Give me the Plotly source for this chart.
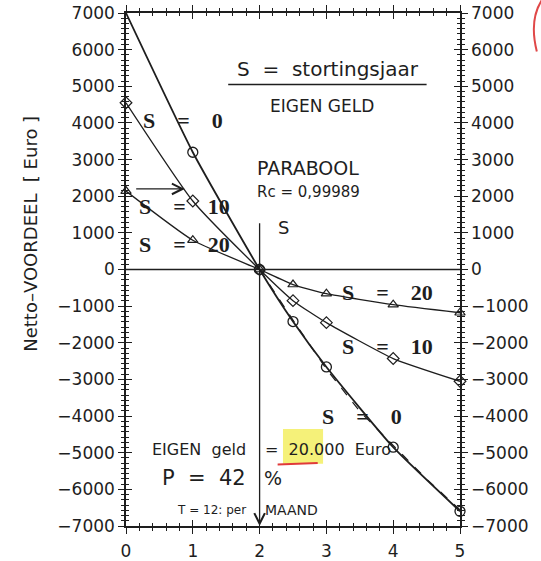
import plotly.graph_objects as go

# Stortingsjaar-series: netto-voordeel (Euro) per jaar
jaren = [0, 1, 2, 2.5, 3, 4, 5]
s0_waarden = [7000, 3200, 0, -1420, -2660, -4850, -6600]
s10_waarden = [4550, 1870, 0, -850, -1450, -2430, -3050]
s20_waarden = [2140, 800, 0, -410, -660, -960, -1180]

# Parabool-fit voor S = 0 (gestreept)
fit_jaren = [2, 2.5, 3, 3.5, 4, 4.5, 5]
fit_waarden = [0, -1380, -2720, -3870, -4800, -5720, -6560]

x_ticks = [0, 1, 2, 3, 4, 5]
y_ticks = list(range(-7000, 7001, 1000))
y_labels = [f"{v:d}".replace("-", "\u2212") for v in y_ticks]

INK = "#1e1e1e"
SANS = "DejaVu Sans"
SERIF = "Liberation Serif"
NB = "\u00a0"

fig = go.Figure()

fig.add_trace(go.Scatter(
    x=fit_jaren, y=fit_waarden, mode="lines",
    line=dict(color=INK, width=1.2, dash="dash"), showlegend=False))

fig.add_trace(go.Scatter(
    x=jaren, y=s0_waarden, mode="lines",
    line=dict(color=INK, width=1.8, shape="spline", smoothing=0.5),
    showlegend=False))
fig.add_trace(go.Scatter(
    x=jaren[1:], y=s0_waarden[1:], mode="markers",
    marker=dict(symbol="circle-open", size=10, color=INK, line=dict(width=1.3)),
    cliponaxis=False, showlegend=False))

fig.add_trace(go.Scatter(
    x=jaren, y=s10_waarden, mode="lines+markers",
    line=dict(color=INK, width=1.3, shape="spline", smoothing=0.5),
    marker=dict(symbol="diamond-open", size=9, color=INK, line=dict(width=1.2)),
    cliponaxis=False, showlegend=False))

fig.add_trace(go.Scatter(
    x=jaren, y=s20_waarden, mode="lines+markers",
    line=dict(color=INK, width=1.3, shape="spline", smoothing=0.5),
    marker=dict(symbol="triangle-up-open", size=9, color=INK, line=dict(width=1.2)),
    cliponaxis=False, showlegend=False))

# second, independent subplot on the same domain: carries the inner tick
# halves and the right-hand labels
fig.add_trace(go.Scatter(x=[None], y=[None], xaxis="x2", yaxis="y2",
                         mode="markers", showlegend=False, hoverinfo="skip"))

base = dict(showgrid=False, zeroline=False, linecolor=INK, tickcolor=INK,
            automargin=False, domain=[0, 1])
tickfont = dict(size=17, family=SANS, color=INK)

fig.update_layout(
    width=541, height=561,
    margin=dict(l=126, r=81, t=13, b=35),
    paper_bgcolor="white", plot_bgcolor="rgba(0,0,0,0)",
    font=dict(family=SANS, color=INK),
    xaxis=dict(range=[0, 5], tickvals=x_ticks, ticks="outside", ticklen=6,
               tickwidth=1.2, showline=True, linewidth=1.5, mirror="ticks",
               tickfont=tickfont, anchor="y", ticklabelstandoff=3,
               minor=dict(dtick=0.2, ticks="outside", ticklen=3, tickwidth=1,
                          tickcolor=INK),
               **base),
    yaxis=dict(range=[-7000, 7000], tickvals=y_ticks, ticktext=y_labels,
               ticks="outside", ticklen=6, tickwidth=1.2, showline=True,
               linewidth=1.5, mirror="ticks", tickfont=tickfont, anchor="x",
               minor=dict(dtick=1000 / 7, ticks="outside", ticklen=3,
                          tickwidth=1, tickcolor=INK),
               **base),
    xaxis2=dict(range=[0, 5], tickvals=x_ticks, ticks="inside", ticklen=6,
                tickwidth=1.2, anchor="y2", showticklabels=False,
                showline=False, mirror="ticks",
                minor=dict(dtick=0.2, ticks="inside", ticklen=3, tickwidth=1,
                           tickcolor=INK),
                **base),
    yaxis2=dict(range=[-7000, 7000], tickvals=y_ticks, ticktext=y_labels,
                side="right", anchor="x2", ticks="inside", ticklen=6,
                tickwidth=1.2, showline=False, mirror="ticks",
                tickfont=tickfont, ticklabelstandoff=10,
                minor=dict(dtick=1000 / 7, ticks="inside", ticklen=3,
                           tickwidth=1, tickcolor=INK),
                **base),
)

shapes = [
    # nullijn
    dict(type="line", xref="x", yref="y", x0=0, x1=5, y0=0, y1=0,
         line=dict(color=INK, width=1.5)),
    # streep onder de kop
    dict(type="line", xref="x", yref="y", x0=1.53, x1=4.5, y0=5050, y1=5050,
         line=dict(color=INK, width=1.6)),
    # markering van het bedrag
    dict(type="rect", xref="x", yref="y", x0=2.35, x1=2.95, y0=-5300, y1=-4350,
         fillcolor="#f3ee62", line=dict(width=0), opacity=0.85, layer="below"),
    dict(type="line", xref="x", yref="y", x0=2.27, x1=2.87, y0=-5320, y1=-5280,
         line=dict(color="#e03a3a", width=2)),
    # rode boog rechtsboven
    dict(type="path", xref="paper", yref="paper",
         path="M 1.25,1.03 Q 1.205,0.99 1.23,0.925",
         line=dict(color="#e04848", width=2)),
]
fig.update_layout(shapes=shapes)

ann = []


def txt(x, y, s, size, family=SANS, xanchor="center", bold=False, **kw):
    if bold:
        s = f"<b>{s}</b>"
    ann.append(dict(x=x, y=y, xref="x", yref="y", text=s, showarrow=False,
                    xanchor=xanchor, yanchor="middle",
                    font=dict(size=size, family=family, color=INK), **kw))


sp2 = NB * 2
sp4 = NB * 4

txt(3.02, 5460, f"S{sp2}={sp2}stortingsjaar", 20)
txt(2.93, 4450, f"EIGEN{NB}GELD", 17)
txt(1.93, 2780, "PARABOOL", 19, xanchor="left")
txt(1.93, 2110, f"Rc{NB}={NB}0,99989", 15, xanchor="left")
txt(2.25, 1150, "S", 18, xanchor="left")

# bijschriften bij de curves
txt(0.85, 4080, f"S{sp4}={sp4}0", 22, family=SERIF, bold=True)
txt(0.88, 1720, f"S{sp4}={sp4}10", 22, family=SERIF, bold=True)
txt(0.88, 680, f"S{sp4}={sp4}20", 22, family=SERIF, bold=True)
txt(3.92, -630, f"S{sp4}={sp4}20", 22, family=SERIF, bold=True)
txt(3.92, -2100, f"S{sp4}={sp4}10", 22, family=SERIF, bold=True)
txt(3.53, -4010, f"S{sp4}={sp4}0", 22, family=SERIF, bold=True)

# gegevens onderin
txt(1.83, -4910, f"EIGEN{sp2}geld", 16, xanchor="right")
txt(2.05, -4910, f"={sp2}20.000{sp2}Euro", 16, xanchor="left")
txt(1.83, -5680, f"P{sp2}={sp2}42", 21, xanchor="right")
txt(2.04, -5680, "%", 19, xanchor="left")
txt(1.83, -6550, f"T{NB}={NB}12:{NB}per", 12, xanchor="right")
txt(2.05, -6550, "MAAND", 14, xanchor="left")

# as-titel
ann.append(dict(x=-0.287, y=980, xref="paper", yref="y",
                text=f"Netto\u2013VOORDEEL{sp2}[{NB}Euro{NB}]", textangle=-90,
                showarrow=False, xanchor="center", yanchor="middle",
                font=dict(size=18, family=SANS, color=INK)))

# pijlen
ann.append(dict(x=2, y=-7000, ax=2, ay=1300, xref="x", yref="y",
                axref="x", ayref="y", text="", showarrow=True, arrowhead=5,
                arrowsize=1.6, arrowwidth=1.3, arrowcolor=INK, standoff=0))
ann.append(dict(x=0.88, y=2200, ax=0.13, ay=2200, xref="x", yref="y",
                axref="x", ayref="y", text="", showarrow=True, arrowhead=5,
                arrowsize=1.6, arrowwidth=1.3, arrowcolor=INK, standoff=0))

fig.update_layout(annotations=ann)

fig.write_html("out.html")
